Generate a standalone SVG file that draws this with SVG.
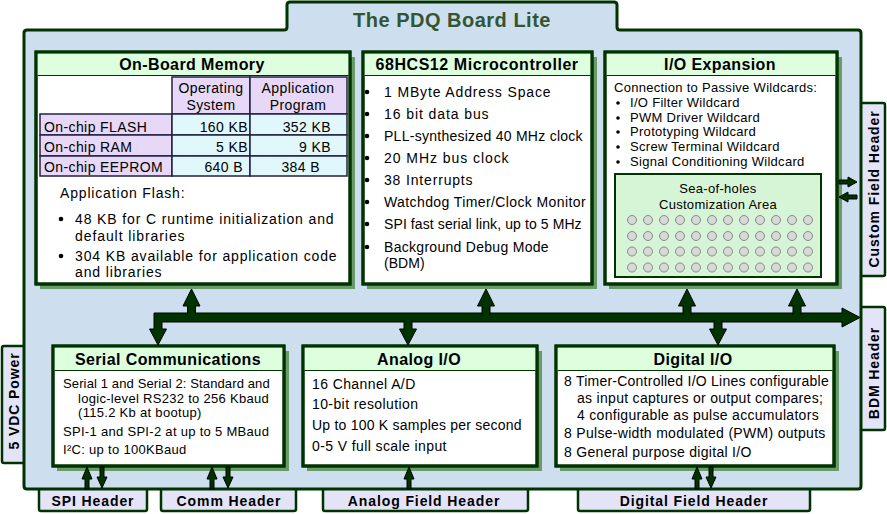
<svg xmlns="http://www.w3.org/2000/svg" width="887" height="514" viewBox="0 0 887 514">
<style>
.board{fill:#cddfee;stroke:#003300;stroke-width:3;stroke-linejoin:round}
.sh{fill:#6a9a6a}
.box{fill:#fff;stroke:#003300;stroke-width:3}
.band{fill:#ddffdd}
.sep{stroke:#003300;stroke-width:1}
.tab{fill:#e4e4f8;stroke:#003300;stroke-width:2.5}
text{font-family:"Liberation Sans",Arial,sans-serif;fill:#000}
.tt{font-size:16px;font-weight:bold;text-anchor:middle;letter-spacing:0.4px}
.t{font-size:14px;letter-spacing:0.4px}
.d{font-size:14px;letter-spacing:0.3px}
.s{font-size:13px;letter-spacing:0.3px}
.ht{font-size:14px;font-weight:bold;text-anchor:middle;letter-spacing:0.9px}
.mid{text-anchor:middle}
.end{text-anchor:end}
.lav{fill:#e6d8f6;stroke:#222244;stroke-width:1.5}
.cy{fill:#e0f8fc;stroke:#222244;stroke-width:1.5}
.bul{fill:#000}
.hole{fill:#d8d8d8;stroke:#8a8a8a;stroke-width:1}
.ar{fill:#003300;stroke:#000;stroke-width:1;stroke-linejoin:miter}
</style>

<!-- header tabs (behind board) -->
<g id="custom-field-header">
<rect class="tab" x="856" y="103" width="29" height="173" rx="2"/>
<text class="ht" transform="translate(879,189) rotate(-90)">Custom Field Header</text>
</g>
<g id="bdm-header">
<rect class="tab" x="856" y="307" width="29" height="123" rx="2"/>
<text class="ht" transform="translate(879,373) rotate(-90)">BDM Header</text>
</g>
<g id="power-5vdc">
<rect class="tab" x="2" y="346" width="28" height="117" rx="2"/>
<text class="ht" transform="translate(19,401) rotate(-90)">5 VDC Power</text>
</g>
<g id="spi-header">
<rect class="tab" x="39" y="484" width="108" height="27" rx="2"/>
<text class="ht" x="93" y="506">SPI Header</text>
</g>
<g id="comm-header">
<rect class="tab" x="161" y="484" width="135" height="27" rx="2"/>
<text class="ht" x="229" y="506">Comm Header</text>
</g>
<g id="analog-field-header">
<rect class="tab" x="323" y="484" width="205" height="27" rx="2"/>
<text class="ht" x="424" y="506">Analog Field Header</text>
</g>
<g id="digital-field-header">
<rect class="tab" x="578" y="484" width="232" height="27" rx="2"/>
<text class="ht" x="694" y="506">Digital Field Header</text>
</g>

<!-- board -->
<g id="board">
<path class="board" d="M24,33 Q24,30 27,30 H284 Q287,30 287,27 V5 Q287,2 290,2 H614 Q617,2 617,5 V27 Q617,30 620,30 H858 Q861,30 861,33 V486 Q861,489 858,489 H27 Q24,489 24,486 Z"/>
<text x="452" y="27" font-size="20" font-weight="bold" text-anchor="middle" letter-spacing="0.5" style="fill:#335533">The PDQ Board Lite</text>
</g>

<!-- On-Board Memory -->
<g id="memory">
<rect class="sh" x="40" y="57" width="315" height="232"/>
<rect class="box" x="36" y="52" width="314" height="232"/>
<rect class="band" x="37.5" y="53.5" width="311" height="22"/>
<line class="sep" x1="37.5" y1="75.5" x2="348.5" y2="75.5"/>
<rect class="box" x="36" y="52" width="314" height="232" style="fill:none"/>
<text class="tt" x="192" y="70">On-Board Memory</text>
<rect class="lav" x="172" y="77" width="78" height="37"/>
<rect class="lav" x="250" y="77" width="97" height="37"/>
<rect class="lav" x="40" y="114" width="132" height="21"/>
<rect class="lav" x="40" y="135" width="132" height="21"/>
<rect class="lav" x="40" y="156" width="132" height="20"/>
<rect class="cy" x="172" y="114" width="78" height="21"/>
<rect class="cy" x="172" y="135" width="78" height="21"/>
<rect class="cy" x="172" y="156" width="78" height="20"/>
<rect class="cy" x="250" y="114" width="97" height="21"/>
<rect class="cy" x="250" y="135" width="97" height="21"/>
<rect class="cy" x="250" y="156" width="97" height="20"/>
<text class="t mid" x="211" y="93">Operating</text>
<text class="t mid" x="211" y="110">System</text>
<text class="t mid" x="298" y="93">Application</text>
<text class="t mid" x="298" y="110">Program</text>
<text class="t" x="44" y="132">On-chip FLASH</text>
<text class="t" x="44" y="152">On-chip RAM</text>
<text class="t" x="44" y="172">On-chip EEPROM</text>
<text class="t end" x="248" y="132">160 KB</text>
<text class="t end" x="248" y="152">5 KB</text>
<text class="t end" x="243" y="172">640 B</text>
<text class="t end" x="331" y="132">352 KB</text>
<text class="t end" x="331" y="152">9 KB</text>
<text class="t end" x="320" y="172">384 B</text>
<text class="t" x="60" y="198" textLength="125" lengthAdjust="spacing">Application Flash:</text>
<circle class="bul" cx="61" cy="219" r="2.3"/>
<text class="t" x="75" y="224" textLength="259" lengthAdjust="spacing">48 KB for C runtime initialization and</text>
<text class="t" x="75" y="241" textLength="110" lengthAdjust="spacing">default libraries</text>
<circle class="bul" cx="61" cy="256" r="2.3"/>
<text class="t" x="75" y="261" textLength="262" lengthAdjust="spacing">304 KB available for application code</text>
<text class="t" x="75" y="277" textLength="87" lengthAdjust="spacing">and libraries</text>
</g>

<!-- 68HCS12 Microcontroller -->
<g id="microcontroller">
<rect class="sh" x="367" y="57" width="230" height="232"/>
<rect class="box" x="363" y="52" width="229" height="232"/>
<rect class="band" x="364.5" y="53.5" width="226" height="22"/>
<line class="sep" x1="364.5" y1="75.5" x2="590.5" y2="75.5"/>
<rect class="box" x="363" y="52" width="229" height="232" style="fill:none"/>
<text class="tt" x="477" y="70" textLength="203" lengthAdjust="spacing">68HCS12 Microcontroller</text>
<g class="bul">
<circle cx="367" cy="92" r="2.3"/><circle cx="367" cy="114" r="2.3"/><circle cx="367" cy="136" r="2.3"/><circle cx="367" cy="158" r="2.3"/>
<circle cx="367" cy="180" r="2.3"/><circle cx="367" cy="202" r="2.3"/><circle cx="367" cy="224" r="2.3"/><circle cx="367" cy="247" r="2.3"/>
</g>
<text class="t" x="384" y="97" textLength="167" lengthAdjust="spacing">1 MByte Address Space</text>
<text class="t" x="384" y="119" textLength="105" lengthAdjust="spacing">16 bit data bus</text>
<text class="t" x="384" y="141" textLength="199" lengthAdjust="spacing">PLL-synthesized 40 MHz clock</text>
<text class="t" x="384" y="163" textLength="125" lengthAdjust="spacing">20 MHz bus clock</text>
<text class="t" x="384" y="185" textLength="89" lengthAdjust="spacing">38 Interrupts</text>
<text class="t" x="384" y="207" textLength="202" lengthAdjust="spacing">Watchdog Timer/Clock Monitor</text>
<text class="t" x="384" y="229" textLength="198" lengthAdjust="spacing">SPI fast serial link, up to 5 MHz</text>
<text class="t" x="384" y="252" textLength="165" lengthAdjust="spacing">Background Debug Mode</text>
<text class="t" x="384" y="268" textLength="41" lengthAdjust="spacing">(BDM)</text>
</g>

<!-- I/O Expansion -->
<g id="io-expansion">
<rect class="sh" x="609" y="57" width="233" height="232"/>
<rect class="box" x="605" y="52" width="232" height="232"/>
<rect class="band" x="606.5" y="53.5" width="229" height="22"/>
<line class="sep" x1="606.5" y1="75.5" x2="835.5" y2="75.5"/>
<rect class="box" x="605" y="52" width="232" height="232" style="fill:none"/>
<text class="tt" x="720" y="70">I/O Expansion</text>
<text class="s" x="614" y="92">Connection to Passive Wildcards:</text>
<g class="bul">
<circle cx="618" cy="103" r="1.8"/><circle cx="618" cy="118" r="1.8"/><circle cx="618" cy="132" r="1.8"/><circle cx="618" cy="147" r="1.8"/><circle cx="618" cy="162" r="1.8"/>
</g>
<text class="s" x="630" y="107">I/O Filter Wildcard</text>
<text class="s" x="630" y="122">PWM Driver Wildcard</text>
<text class="s" x="630" y="136">Prototyping Wildcard</text>
<text class="s" x="630" y="151">Screw Terminal Wildcard</text>
<text class="s" x="630" y="166">Signal Conditioning Wildcard</text>
<rect x="615" y="174" width="206" height="103" style="fill:#d6f5d6;stroke:#003300;stroke-width:2"/>
<text class="s mid" x="718" y="193">Sea-of-holes</text>
<text class="s mid" x="718" y="209">Customization Area</text>
<g class="hole">
<circle cx="632" cy="220" r="4.5"/><circle cx="648" cy="220" r="4.5"/><circle cx="664" cy="220" r="4.5"/><circle cx="680" cy="220" r="4.5"/><circle cx="696" cy="220" r="4.5"/><circle cx="712" cy="220" r="4.5"/><circle cx="728" cy="220" r="4.5"/><circle cx="744" cy="220" r="4.5"/><circle cx="760" cy="220" r="4.5"/><circle cx="776" cy="220" r="4.5"/><circle cx="792" cy="220" r="4.5"/><circle cx="808" cy="220" r="4.5"/>
<circle cx="632" cy="236" r="4.5"/><circle cx="648" cy="236" r="4.5"/><circle cx="664" cy="236" r="4.5"/><circle cx="680" cy="236" r="4.5"/><circle cx="696" cy="236" r="4.5"/><circle cx="712" cy="236" r="4.5"/><circle cx="728" cy="236" r="4.5"/><circle cx="744" cy="236" r="4.5"/><circle cx="760" cy="236" r="4.5"/><circle cx="776" cy="236" r="4.5"/><circle cx="792" cy="236" r="4.5"/><circle cx="808" cy="236" r="4.5"/>
<circle cx="632" cy="251.5" r="4.5"/><circle cx="648" cy="251.5" r="4.5"/><circle cx="664" cy="251.5" r="4.5"/><circle cx="680" cy="251.5" r="4.5"/><circle cx="696" cy="251.5" r="4.5"/><circle cx="712" cy="251.5" r="4.5"/><circle cx="728" cy="251.5" r="4.5"/><circle cx="744" cy="251.5" r="4.5"/><circle cx="760" cy="251.5" r="4.5"/><circle cx="776" cy="251.5" r="4.5"/><circle cx="792" cy="251.5" r="4.5"/><circle cx="808" cy="251.5" r="4.5"/>
<circle cx="632" cy="267.5" r="4.5"/><circle cx="648" cy="267.5" r="4.5"/><circle cx="664" cy="267.5" r="4.5"/><circle cx="680" cy="267.5" r="4.5"/><circle cx="696" cy="267.5" r="4.5"/><circle cx="712" cy="267.5" r="4.5"/><circle cx="728" cy="267.5" r="4.5"/><circle cx="744" cy="267.5" r="4.5"/><circle cx="760" cy="267.5" r="4.5"/><circle cx="776" cy="267.5" r="4.5"/><circle cx="792" cy="267.5" r="4.5"/><circle cx="808" cy="267.5" r="4.5"/>
</g>
</g>

<!-- Serial Communications -->
<g id="serial">
<rect class="sh" x="57" y="351" width="232" height="120"/>
<rect class="box" x="53" y="346" width="231" height="120"/>
<rect class="band" x="54.5" y="347.5" width="228" height="23"/>
<line class="sep" x1="54.5" y1="370.5" x2="282.5" y2="370.5"/>
<rect class="box" x="53" y="346" width="231" height="120" style="fill:none"/>
<text class="tt" x="168" y="365">Serial Communications</text>
<text class="s" x="63" y="388" textLength="207" lengthAdjust="spacing">Serial 1 and Serial 2: Standard and</text>
<text class="s" x="78" y="403">logic-level RS232 to 256 Kbaud</text>
<text class="s" x="78" y="417">(115.2 Kb at bootup)</text>
<text class="s" x="63" y="436">SPI-1 and SPI-2 at up to 5 MBaud</text>
<text class="s" x="63" y="454">I²C: up to 100KBaud</text>
</g>

<!-- Analog I/O -->
<g id="analog">
<rect class="sh" x="307" y="351" width="235" height="120"/>
<rect class="box" x="303" y="346" width="234" height="120"/>
<rect class="band" x="304.5" y="347.5" width="231" height="23"/>
<line class="sep" x1="304.5" y1="370.5" x2="535.5" y2="370.5"/>
<rect class="box" x="303" y="346" width="234" height="120" style="fill:none"/>
<text class="tt" x="419" y="365">Analog I/O</text>
<text class="t" x="312" y="389">16 Channel A/D</text>
<text class="t" x="312" y="409">10-bit resolution</text>
<text class="t" x="312" y="430" textLength="210" lengthAdjust="spacing">Up to 100 K samples per second</text>
<text class="t" x="312" y="451">0-5 V full scale input</text>
</g>

<!-- Digital I/O -->
<g id="digital">
<rect class="sh" x="560" y="351" width="279" height="120"/>
<rect class="box" x="556" y="346" width="278" height="120"/>
<rect class="band" x="557.5" y="347.5" width="275" height="23"/>
<line class="sep" x1="557.5" y1="370.5" x2="832.5" y2="370.5"/>
<rect class="box" x="556" y="346" width="278" height="120" style="fill:none"/>
<text class="tt" x="693" y="365">Digital I/O</text>
<text class="d" x="564" y="386" textLength="265" lengthAdjust="spacing">8 Timer-Controlled I/O Lines configurable</text>
<text class="d" x="577" y="403">as input captures or output compares;</text>
<text class="d" x="577" y="420">4 configurable as pulse accumulators</text>
<text class="d" x="564" y="438">8 Pulse-width modulated (PWM) outputs</text>
<text class="d" x="564" y="457">8 General purpose digital I/O</text>
</g>

<!-- connectors -->
<g id="connectors">
<path class="ar" d="M154,313 H842 V308 L860,317.5 L842,327 V322 H162 V329 H166.5 L158,345 L149.5,329 H154 Z"/>
<path class="ar" d="M187.5,315 V306 H183 L191.5,289 L200,306 H195.5 V315"/>
<path class="ar" d="M482,315 V306 H477.5 L486,289 L494.5,306 H490 V315"/>
<path class="ar" d="M683,315 V306 H678.5 L687,289 L695.5,306 H691 V315"/>
<path class="ar" d="M793,315 V306 H788.5 L797,289 L805.5,306 H801 V315"/>
<path class="ar" d="M404,320 V329 H399.5 L408,345 L416.5,329 H412 V320"/>
<path class="ar" d="M714,320 V329 H709.5 L718,345 L726.5,329 H722 V320"/>
<path class="ar" d="M85,489 V479 H82 L87,467 L92,479 H89 V489 Z"/>
<path class="ar" d="M100,467 V477 H97 L102,488 L107,477 H104 V467 Z"/>
<path class="ar" d="M210,489 V479 H207 L212,467 L217,479 H214 V489 Z"/>
<path class="ar" d="M226,467 V477 H223 L228,488 L233,477 H230 V467 Z"/>
<path class="ar" d="M407,489 V479 H404 L409,467 L414,479 H411 V489 Z"/>
<path class="ar" d="M695,489 V479 H692 L697,467 L702,479 H699 V489 Z"/>
<path class="ar" d="M709,467 V477 H706 L711,488 L716,477 H713 V467 Z"/>
<path class="ar" d="M839,180 H848 V177 L857,182 L848,187 V184 H839 Z"/>
<path class="ar" d="M857,195 H848 V192 L839,197 L848,202 V199 H857 Z"/>
</g>
</svg>
